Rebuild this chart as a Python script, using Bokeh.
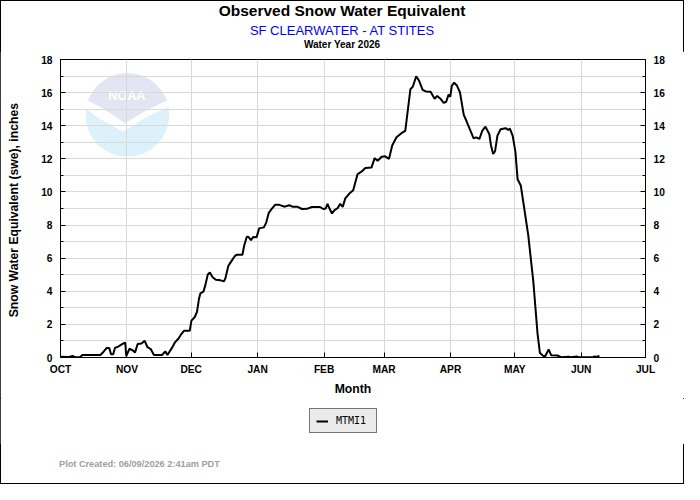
import numpy as np
from bokeh.plotting import figure
from bokeh.layouts import column
from bokeh.models import (Range1d, LinearAxis, FixedTicker, SingleIntervalTicker,
                          Legend, LegendItem, ColumnDataSource, Div)
from bokeh.core.properties import value
from bokeh.embed import file_html
from bokeh.resources import INLINE

# ---------------- data ----------------
month_ticks = [0, 31, 61, 92, 123, 151, 182, 212, 243, 273]
month_labels = ["OCT", "NOV", "DEC", "JAN", "FEB", "MAR", "APR", "MAY", "JUN", "JUL"]

# day of water year (0 = Oct 1, 2025)
day_of_wy = [
    0, 4.1, 5.6, 6.8, 9.1, 10.2, 18.6, 20.1, 21.6, 22.7,
    23.6, 24.6, 25.4, 26.9, 28.4, 29.6, 30.2, 30.7, 32.2, 33.7,
    34.8, 36.0, 37.8, 39.3, 40.6, 42.1, 43.6, 47.4, 48.9, 49.9,
    52.0, 53.5, 55.0, 56.1, 57.6, 60.3, 61.1, 62.6, 63.7, 64.6,
    65.3, 66.7, 67.6, 68.7, 69.7, 71.0, 72.5, 74.7, 76.3, 77.0,
    78.3, 79.3, 81.3, 82.4, 84.9, 85.8, 86.9, 87.6, 88.9, 89.9,
    91.5, 92.7, 94.9, 96.0, 97.2, 98.3, 100.1, 102.1, 104.7, 106.7,
    108.2, 110.4, 112.7, 115.0, 117.3, 121.1, 122.6, 123.8, 124.6, 125.7,
    126.7, 127.9, 129.4, 130.5, 131.7, 132.9, 134.8, 136.6, 138.6, 140.8,
    142.3, 145.1, 146.6, 148.0, 149.9, 151.5, 153.3, 154.8, 156.8, 159.1,
    160.9, 162.1, 163.3, 164.4, 166.0, 167.4, 169.0, 170.5, 172.7, 174.6,
    175.8, 177.3, 178.8, 180.0, 181.1, 181.9, 182.6, 183.7, 184.9, 186.4,
    188.2, 189.5, 191.0, 192.8, 194.0, 195.5, 196.8, 198.3, 200.1, 200.9,
    201.9, 202.8, 203.9, 205.4, 207.7, 208.9, 209.7, 211.0, 212.3, 213.3,
    214.8, 216.5, 218.3, 219.6, 220.6, 221.7, 222.6, 223.7, 225.2, 226.2,
    227.8, 229.0, 232.0, 233.5, 237.3, 237.9, 241.1, 241.6, 248.7, 249.1,
    249.8, 251.5,
]
# snow water equivalent, inches
swe_inches = [
    0.04, 0.03, 0.10, 0.02, 0.02, 0.15, 0.15, 0.35, 0.58, 0.58,
    0.20, 0.20, 0.58, 0.66, 0.78, 0.87, 0.90, 0.08, 0.54, 0.43,
    0.31, 0.82, 0.85, 1.01, 0.62, 0.51, 0.15, 0.15, 0.37, 0.15,
    0.58, 0.93, 1.13, 1.36, 1.61, 1.61, 2.23, 2.43, 2.76, 3.53,
    3.88, 3.98, 4.37, 5.00, 5.14, 4.85, 4.70, 4.66, 4.60, 4.80,
    5.53, 5.73, 6.12, 6.21, 6.21, 6.80, 7.28, 7.30, 7.09, 7.28,
    7.26, 7.80, 7.86, 8.15, 8.74, 8.93, 9.22, 9.22, 9.11, 9.20,
    9.11, 9.11, 8.97, 8.98, 9.09, 9.09, 8.97, 9.00, 9.28, 8.95,
    8.70, 8.90, 9.03, 9.28, 9.10, 9.61, 9.90, 10.10, 11.07, 11.26,
    11.45, 11.47, 12.04, 11.88, 12.13, 12.15, 12.00, 12.81, 13.30, 13.55,
    13.69, 14.95, 16.21, 16.35, 16.99, 16.70, 16.17, 16.07, 16.05, 15.63,
    15.80, 15.63, 15.38, 15.45, 15.88, 15.75, 16.41, 16.60, 16.45, 16.02,
    14.66, 14.27, 13.79, 13.24, 13.30, 13.20, 13.69, 13.94, 13.50, 12.81,
    12.29, 12.46, 13.40, 13.79, 13.85, 13.75, 13.82, 13.40, 12.42, 10.77,
    10.39, 8.93, 7.38, 5.82, 4.66, 2.91, 1.46, 0.29, 0.10, 0.08,
    0.49, 0.13, 0.12, 0.02, 0.05, 0.02, 0.06, 0.02, 0.02, 0.07,
    0.03, 0.10,
]
station_id = "MTMI1"
title_text = "Observed Snow Water Equivalent"
subtitle_text = "SF CLEARWATER - AT STITES"
year_text = "Water Year 2026"
footer_text = "Plot Created: 06/09/2026 2:41am PDT"

# ---------------- layout constants (reference 700x500 scaled to 684x484) ----------------
W, H = 684, 484
TOP_H = 51          # header div      (0   .. 51)
FIG_H = 347         # main figure     (51  .. 398)
LEG_H = 46          # legend strip    (398 .. 444)
BOT_H = H - TOP_H - FIG_H - LEG_H   # footer div (444 .. 484)
X0, X1 = 0, 273
Y0, Y1 = 0, 18
FONT = "Liberation Sans"

# ---------------- header (titles) ----------------
def line(txt, size, weight, color, lh, mt):
    return (f'<div style="width:{W}px;margin-top:{mt}px;'
            f'text-align:center;white-space:nowrap;font-family:\'{FONT}\';'
            f'font-size:{size}px;font-weight:{weight};color:{color};'
            f'line-height:{lh}px;height:{lh}px;">{txt}</div>')

header = Div(width=W, height=TOP_H, margin=0,
             text=(line(title_text, 15.5, "bold", "#000000", 20, 1)
                   + line(subtitle_text, 13, "normal", "#0000ff", 16, 2)
                   + line(year_text, 10, "bold", "#000000", 12, 0)))

footer = Div(width=W, height=BOT_H, margin=0,
             text=(f'<div style="margin-left:59px;margin-top:15px;white-space:nowrap;'
                   f'font-family:\'{FONT}\';font-size:9.2px;font-weight:bold;'
                   f'color:#a0a0a0;line-height:11px;height:11px;">{footer_text}</div>'))

# ---------------- main figure ----------------
p = figure(width=W, height=FIG_H, output_backend="svg", toolbar_location=None,
           x_range=Range1d(X0, X1), y_range=Range1d(Y0, Y1),
           min_border_left=60, min_border_right=39, min_border_top=8,
           min_border_bottom=40, margin=0)
p.background_fill_color = "white"
p.border_fill_color = "white"
p.outline_line_color = "black"
p.outline_line_width = 1
p.outline_line_alpha = 1

p.xgrid.ticker = FixedTicker(ticks=month_ticks)
p.ygrid.ticker = SingleIntervalTicker(interval=1)
for g in (p.xgrid, p.ygrid):
    g.grid_line_color = "#d9d9d9"
    g.grid_line_width = 1

xa = p.xaxis[0]
xa.ticker = FixedTicker(ticks=month_ticks)
xa.major_label_overrides = {t: l for t, l in zip(month_ticks, month_labels)}
xa.axis_label = "Month"

ya = p.yaxis[0]
ya.ticker = SingleIntervalTicker(interval=2, num_minor_ticks=2)
ya.axis_label = "Snow Water Equivalent (swe),  inches"

ra = LinearAxis(ticker=SingleIntervalTicker(interval=2, num_minor_ticks=2))
p.add_layout(ra, "right")

for ax in (xa, ya, ra):
    ax.axis_line_color = "black"
    ax.major_tick_line_color = "black"
    ax.minor_tick_line_color = "black"
    ax.major_tick_in = 5
    ax.major_tick_out = 0
    ax.minor_tick_in = 3
    ax.minor_tick_out = 0
    ax.major_label_text_font = FONT
    ax.major_label_text_font_style = "bold"
    ax.major_label_text_font_size = "10.2px"
    ax.major_label_text_color = "black"
    ax.axis_label_text_font = FONT
    ax.axis_label_text_font_style = "bold"
    ax.axis_label_text_font_size = "12.2px"
    ax.axis_label_text_color = "black"
xa.minor_tick_line_color = None
xa.major_label_standoff = 6
xa.axis_label_standoff = 4
ya.major_label_standoff = 8
ya.axis_label_standoff = 17
ra.major_label_standoff = 8

# ---------------- NOAA watermark (decoration) ----------------
# placed in the reference picture's pixel frame, converted to data units
PX_L, PX_R, PX_T, PX_B = 61.0, 660.0, 61.0, 370.0
def to_data(px, py):
    px = np.asarray(px, float); py = np.asarray(py, float)
    return (X0 + (px - PX_L) * (X1 - X0) / (PX_R - PX_L),
            Y0 + (PX_B - py) * (Y1 - Y0) / (PX_B - PX_T))

cxp, cyp, R = 129.5, 118.5, 43.0
cx, cy = to_data(cxp, cyp)
p.scatter(x=[float(cx)], y=[float(cy)], size=2 * R * 0.973, marker="circle",
          fill_color="#ddf1fa", line_color=None, level="image")
t = np.radians(np.linspace(20, 160, 40))
lav_px = list(cxp + R * np.cos(t)) + [105, 127, 150]
lav_py = list(cyp - R * np.sin(t)) + [112, 127, 113]
lx, ly = to_data(lav_px, lav_py)
p.patch(x=list(lx), y=list(ly), fill_color="#e4e5f3", line_color=None, level="image")
wb_px = [89.1, 105, 127, 150, 169.9, 171.6, 150, 125, 100, 87.0]
wb_py = [103.8, 112, 127, 113, 103.8, 110.5, 120, 136, 122, 112]
wx, wy = to_data(wb_px, wb_py)
p.patch(x=list(wx), y=list(wy), fill_color="white", line_color=None, level="image")
nx, ny = to_data(129, 99)
p.text(x=[float(nx)], y=[float(ny)], text=["NOAA"], text_color="white",
       text_font=value(FONT), text_font_style="bold", text_font_size="12.6px",
       text_align="center", text_baseline="middle", level="image")

# ---------------- data line ----------------
src = ColumnDataSource(dict(day=day_of_wy, swe=swe_inches))
ln = p.line("day", "swe", source=src, line_color="black", line_width=2)

# ---------------- legend strip (below the plot) ----------------
# the same series is drawn here outside the visible range, only to key the legend
pl = figure(width=W, height=LEG_H, output_backend="svg", toolbar_location=None,
            x_range=Range1d(X0, X1), y_range=Range1d(100, 101),
            x_axis_type=None, y_axis_type=None, min_border=0, margin=0)
pl.outline_line_color = None
pl.background_fill_color = "white"
pl.border_fill_color = "white"
key_line = pl.line("day", "swe", source=src, line_color="black", line_width=2)
leg = Legend(items=[LegendItem(label=station_id, renderers=[key_line])],
             location=(249, 11), margin=0, padding=6,
             glyph_width=12, glyph_height=10, label_height=10, label_width=34,
             label_standoff=8, spacing=0,
             background_fill_color="#ebebeb", background_fill_alpha=1,
             border_line_color="black", border_line_width=1,
             label_text_font="DejaVu Sans Mono", label_text_font_size="10px",
             label_text_color="black")
pl.add_layout(leg, "center")

layout = column(header, p, pl, footer, spacing=0, margin=0,
                styles={"outline": "1px solid black", "outline-offset": "-1px"})
open("out.html", "w").write(file_html(layout, INLINE))
